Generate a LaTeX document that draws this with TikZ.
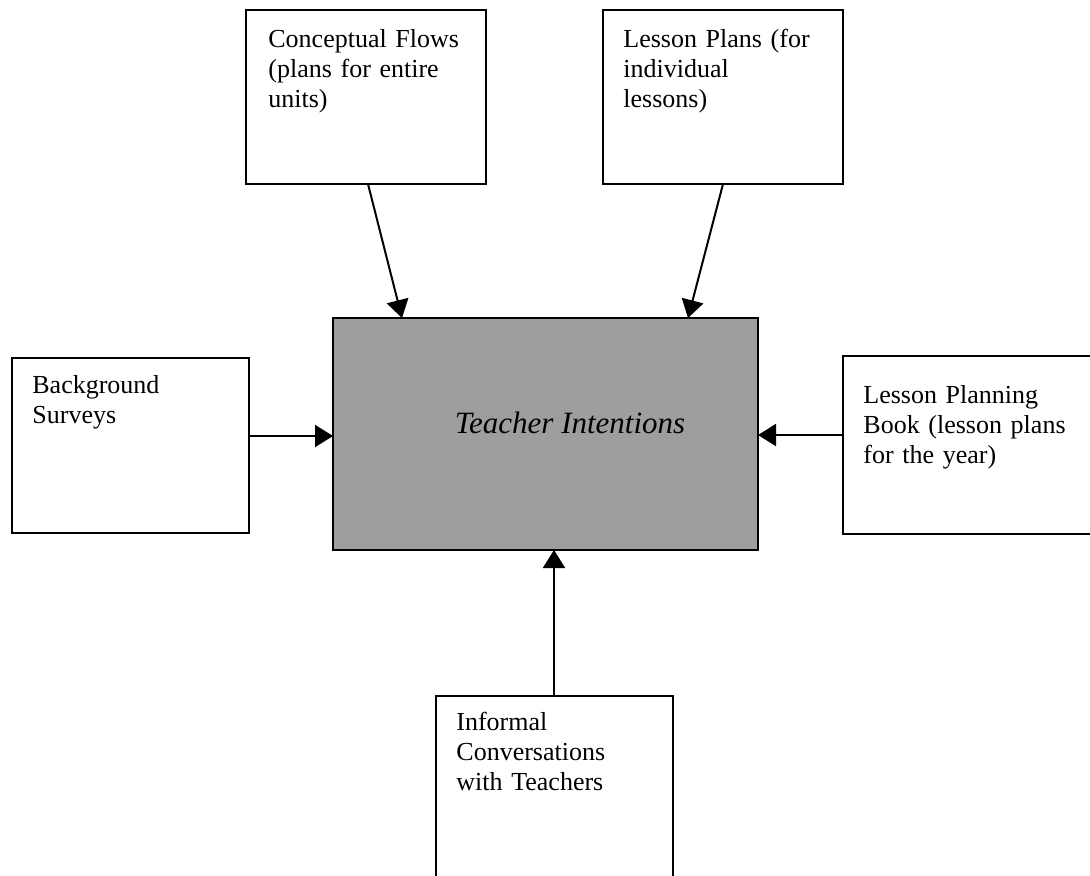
\documentclass[tikz,border=0pt]{standalone}
\usepackage{fontspec}
\setmainfont{Liberation Serif}
\usetikzlibrary{arrows.meta,calc}

\tikzset{
  box/.style={draw=black, line width=1pt, fill=white, anchor=north west,
    inner sep=0pt, outer sep=0pt},
  centrebox/.style={box, fill=black!38},
  boxtext/.style={anchor=base west, inner sep=0pt, text width=110pt, align=left,
    font=\fontsize{13}{15}\selectfont},
  feed/.style={line width=1pt, -{Triangle[length=9pt,width=11pt]}}
}

\begin{document}
\begin{tikzpicture}[x=0.5pt, y=-0.5pt]
  \useasboundingbox (0,0) rectangle (1090,875);

  % central box
  \node[centrebox, minimum width=212.5pt, minimum height=116pt] (ti) at (333,318) {};
  \node[anchor=base, inner sep=0pt, font=\fontsize{15.5}{18}\selectfont\itshape]
    (titext) at (570,433) {Teacher Intentions};

  % source boxes
  \node[box, minimum width=120pt, minimum height=87pt] (cf) at (246,10) {};
  \node[boxtext] (cftext) at (268,47) {Conceptual Flows\\(plans for entire\\units)};

  \node[box, minimum width=120pt, minimum height=87pt] (lp) at (603,10) {};
  \node[boxtext] (lptext) at (623,47) {Lesson Plans (for\\individual\\lessons)};

  \node[box, minimum width=118.5pt, minimum height=87.5pt] (bs) at (12,358) {};
  \node[boxtext] (bstext) at (32,393) {Background\\Surveys};

  \node[box, minimum width=128.5pt, minimum height=89pt] (lpb) at (843,356) {};
  \node[boxtext] (lpbtext) at (863,403) {Lesson Planning\\Book (lesson plans\\for the year)};

  \node[box, minimum width=118.5pt, minimum height=100pt] (ic) at (436,696) {};
  \node[boxtext] (ictext) at (456,730) {Informal\\Conversations\\with Teachers};

  % connectors into the central box
  \draw[feed] ($(cf.south west)+(122,0)$) -- ($(ti.north west)+(69,0)$);
  \draw[feed] ($(lp.south west)+(120,0)$) -- ($(ti.north west)+(355,0)$);
  \draw[feed] ($(bs.south east)+(0,-97)$) -- ($(ti.north west)+(0,118)$);
  \draw[feed] ($(lpb.north west)+(0,79)$) -- ($(ti.north east)+(0,117)$);
  \draw[feed] ($(ic.north west)+(118,0)$) -- ($(ti.south west)+(221,0)$);
\end{tikzpicture}
\end{document}
